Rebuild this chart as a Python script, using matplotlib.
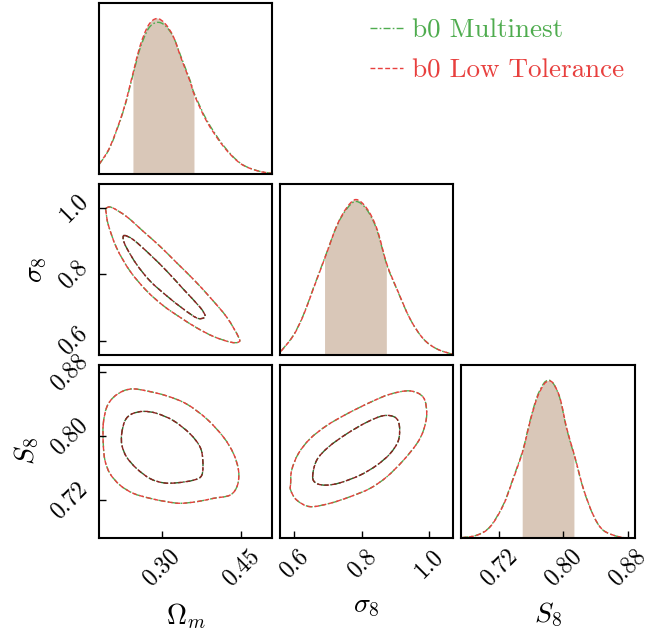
import numpy as np
import matplotlib
matplotlib.use("Agg")
import matplotlib.pyplot as plt
from matplotlib.lines import Line2D
from matplotlib.path import Path
from matplotlib.patches import PathPatch

plt.rcParams['font.family'] = 'serif'
plt.rcParams['font.serif'] = ['cmr10']
plt.rcParams['mathtext.fontset'] = 'cm'
plt.rcParams['axes.formatter.use_mathtext'] = True

# ---------------- data ----------------
series_names = ["b0 Multinest", "b0 Low Tolerance"]
green = "#4fac4f"
red = "#e8403e"
green_dark = "#2a6b2a"
red_dark = "#8e2222"
shade_color = "#d9c7b8"

# 1D marginals (normalised densities)
om_grid = [0.181, 0.2019, 0.2272, 0.2463, 0.2589, 0.2747, 0.2906, 0.3064, 0.3222,
           0.3381, 0.3539, 0.3620, 0.3856, 0.4172, 0.4489, 0.4806, 0.5091]
om_red = [0.062, 0.176, 0.411, 0.660, 0.825, 0.957, 1.000, 0.967, 0.882,
          0.732, 0.593, 0.507, 0.336, 0.176, 0.068, 0.021, 0.004]
om_green = [0.060, 0.172, 0.405, 0.650, 0.808, 0.935, 0.975, 0.955, 0.880,
            0.740, 0.600, 0.515, 0.345, 0.182, 0.070, 0.022, 0.004]
om_interval = (0.2463, 0.3620)

s8_grid = [0.5605, 0.5970, 0.6268, 0.6565, 0.6912, 0.7260, 0.7557, 0.7834, 0.8152,
           0.8450, 0.8746, 0.9043, 0.9438, 0.9834, 1.0232, 1.0677]
sig8_red = [0.024, 0.124, 0.254, 0.426, 0.627, 0.831, 0.948, 1.000, 0.943,
            0.813, 0.585, 0.426, 0.232, 0.103, 0.039, 0.006]
sig8_green = [0.025, 0.126, 0.257, 0.430, 0.630, 0.830, 0.940, 0.988, 0.935,
              0.805, 0.580, 0.423, 0.231, 0.103, 0.039, 0.006]
sig8_interval = (0.6912, 0.8746)

S8_grid = [0.6735, 0.6922, 0.7088, 0.7253, 0.7378, 0.7494, 0.7585, 0.7668, 0.7751,
           0.7813, 0.7875, 0.7959, 0.8042, 0.8137, 0.8248, 0.8373, 0.8497, 0.8705, 0.8892]
S8_red = [0.002, 0.017, 0.070, 0.208, 0.378, 0.550, 0.739, 0.884, 0.972,
          0.998, 0.982, 0.888, 0.696, 0.527, 0.315, 0.144, 0.049, 0.006, 0.000]
S8_green = [0.002, 0.018, 0.072, 0.212, 0.384, 0.556, 0.746, 0.892, 0.980,
            1.003, 0.982, 0.884, 0.690, 0.522, 0.312, 0.143, 0.048, 0.006, 0.000]
S8_interval = (0.7494, 0.8137)

# 2D contours (68% inner, 95% outer): Omega_m vs sigma_8
om_sig8_outer_om = [0.1943, 0.2050, 0.2335, 0.2652, 0.2968, 0.3285, 0.3601, 0.3918, 0.4234,
                    0.4456, 0.4456, 0.4298, 0.3981, 0.3665, 0.3348, 0.3032, 0.2715, 0.2399,
                    0.2145, 0.1987, 0.1943]
om_sig8_outer_s = [0.9977, 1.0006, 0.9729, 0.9283, 0.8837, 0.8341, 0.7846, 0.7301, 0.6706,
                   0.6112, 0.5963, 0.5963, 0.6131, 0.6389, 0.6706, 0.7053, 0.7499, 0.8093,
                   0.8787, 0.9481, 0.9877]
om_sig8_inner_om = [0.2291, 0.2462, 0.2779, 0.3095, 0.3411, 0.3728, 0.3823, 0.3791, 0.3665,
                    0.3411, 0.3095, 0.2779, 0.2525, 0.2335, 0.2272]
om_sig8_inner_s = [0.9164, 0.9035, 0.8589, 0.8094, 0.7549, 0.7004, 0.6756, 0.6686, 0.6686,
                   0.6954, 0.7350, 0.7796, 0.8292, 0.8787, 0.9035]

# Omega_m vs S_8
om_S8_outer_om = [0.1891, 0.1955, 0.2081, 0.2271, 0.2461, 0.2714, 0.3094, 0.3474, 0.3854,
                  0.4170, 0.4360, 0.4455, 0.4436, 0.4297, 0.3980, 0.3664, 0.3347, 0.3094,
                  0.2778, 0.2461, 0.2208, 0.2018, 0.1923, 0.1891]
om_S8_outer_S = [0.8153, 0.8360, 0.8484, 0.8566, 0.8591, 0.8566, 0.8504, 0.8401, 0.8215,
                 0.7988, 0.7781, 0.7574, 0.7388, 0.7264, 0.7223, 0.7181, 0.7161, 0.7181,
                 0.7223, 0.7285, 0.7388, 0.7533, 0.7698, 0.7905]
om_S8_inner_om = [0.2240, 0.2303, 0.2429, 0.2651, 0.2904, 0.3221, 0.3537, 0.3727, 0.3778,
                  0.3759, 0.3601, 0.3284, 0.3031, 0.2778, 0.2524, 0.2334, 0.2246]
om_S8_inner_S = [0.8029, 0.8194, 0.8277, 0.8310, 0.8285, 0.8194, 0.8029, 0.7863, 0.7698,
                 0.7512, 0.7450, 0.7417, 0.7417, 0.7470, 0.7595, 0.7739, 0.7884]

# sigma_8 vs S_8
sig8_S8_outer_s = [0.5891, 0.5921, 0.6119, 0.6465, 0.6960, 0.7554, 0.8247, 0.8841, 0.9435,
                   0.9831, 0.9930, 0.9831, 0.9633, 0.9237, 0.8742, 0.8247, 0.7653, 0.7059,
                   0.6465, 0.6069, 0.5891]
sig8_S8_outer_S = [0.7409, 0.7574, 0.7781, 0.7967, 0.8132, 0.8277, 0.8422, 0.8525, 0.8566,
                   0.8484, 0.8277, 0.8070, 0.7905, 0.7698, 0.7491, 0.7347, 0.7243, 0.7161,
                   0.7119, 0.7202, 0.7326]
sig8_S8_inner_s = [0.6544, 0.6663, 0.7010, 0.7554, 0.8148, 0.8643, 0.8990, 0.9118, 0.9089,
                   0.8841, 0.8445, 0.7950, 0.7356, 0.6960, 0.6663]
sig8_S8_inner_S = [0.7491, 0.7698, 0.7863, 0.8029, 0.8174, 0.8256, 0.8236, 0.8132, 0.7946,
                   0.7781, 0.7636, 0.7512, 0.7417, 0.7388, 0.7409]

om_lim = (0.181, 0.509)
sig8_lim = (0.5575, 1.071)
S8_lim = (0.6727, 0.889)
om_ticks = [0.30, 0.45]
om_ticklabels = ["0.30", "0.45"]
sig8_ticks = [0.6, 0.8, 1.0]
sig8_ticklabels = ["0.6", "0.8", "1.0"]
S8_ticks = [0.72, 0.80, 0.88]
S8_ticklabels = ["0.72", "0.80", "0.88"]

# ---------------- helpers: smooth Bezier paths through the read points ----------------
def bezier_path(xs, ys, closed=False):
    P = np.column_stack([xs, ys]).astype(float)
    n = len(P)
    verts = [P[0]]
    codes = [Path.MOVETO]
    nseg = n if closed else n - 1
    for i in range(nseg):
        i0 = (i - 1) % n if closed else max(i - 1, 0)
        i1 = i
        i2 = (i + 1) % n if closed else i + 1
        i3 = (i + 2) % n if closed else min(i + 2, n - 1)
        c1 = P[i1] + (P[i2] - P[i0]) / 6.0
        c2 = P[i2] - (P[i3] - P[i1]) / 6.0
        verts += [c1, c2, P[i2]]
        codes += [Path.CURVE4] * 3
    return verts, codes

def draw_curve(ax, xs, ys, closed=False, **kw):
    verts, codes = bezier_path(xs, ys, closed)
    ax.add_patch(PathPatch(Path(verts, codes), fill=False, **kw))

def draw_shade(ax, xs, ys, lo, hi, **kw):
    xs = np.asarray(xs); ys = np.asarray(ys)
    verts, codes = bezier_path(xs, ys, False)
    i_lo = int(np.argmin(np.abs(xs - lo)))
    i_hi = int(np.argmin(np.abs(xs - hi)))
    v = [(xs[i_lo], 0.0), (xs[i_lo], ys[i_lo])]
    c = [Path.MOVETO, Path.LINETO]
    for i in range(i_lo, i_hi):
        v += list(verts[1 + 3 * i: 4 + 3 * i])
        c += [Path.CURVE4] * 3
    v += [(xs[i_hi], 0.0), (xs[i_lo], 0.0)]
    c += [Path.LINETO, Path.CLOSEPOLY]
    ax.add_patch(PathPatch(Path(v, c), **kw))

# ---------------- figure ----------------
fig = plt.figure(figsize=(6.46, 6.31), dpi=100)
W, H = 646.0, 631.0
cols = [(99, 272), (280, 453), (461, 635)]
rows = [(3, 174), (184, 355), (365, 538)]

def make_ax(r, c):
    x0, x1 = cols[c]
    y0, y1 = rows[r]
    return fig.add_axes([x0 / W, 1 - y1 / H, (x1 - x0) / W, (y1 - y0) / H])

G_DASH = (0, (5, 1.6, 1.2, 1.6))
R_DASH = (0, (3.5, 1.8))
LW = 1.0
TICKFS = 17
LABFS = 20

def style(ax):
    for sp in ax.spines.values():
        sp.set_linewidth(1.5)
    ax.tick_params(direction='in', length=5, width=1.0, labelsize=TICKFS,
                   top=False, right=False, pad=5)
    ax.set_xticks([])
    ax.set_yticks([])

def plot1d(ax, x, yg, yr, interval, lim):
    draw_shade(ax, x, yr, interval[0], interval[1], facecolor=shade_color, lw=0)
    draw_curve(ax, x, yg, edgecolor=green, lw=LW, ls=G_DASH)
    draw_curve(ax, x, yr, edgecolor=red, lw=LW, ls=R_DASH)
    ax.set_xlim(*lim)
    ax.set_ylim(0, 1.1)

def plot2d(ax, ox, oy, ix, iy, xlim, ylim):
    draw_curve(ax, ox, oy, closed=True, edgecolor=green, lw=LW, ls=G_DASH)
    draw_curve(ax, ox, oy, closed=True, edgecolor=red, lw=LW, ls=R_DASH)
    draw_curve(ax, ix, iy, closed=True, edgecolor=green_dark, lw=LW, ls=G_DASH)
    draw_curve(ax, ix, iy, closed=True, edgecolor=red_dark, lw=LW, ls=R_DASH)
    ax.set_xlim(*xlim)
    ax.set_ylim(*ylim)

# diagonal
ax00 = make_ax(0, 0); style(ax00)
plot1d(ax00, om_grid, om_green, om_red, om_interval, om_lim)
ax11 = make_ax(1, 1); style(ax11)
plot1d(ax11, s8_grid, sig8_green, sig8_red, sig8_interval, sig8_lim)
ax22 = make_ax(2, 2); style(ax22)
plot1d(ax22, S8_grid, S8_green, S8_red, S8_interval, S8_lim)

# off-diagonal
ax10 = make_ax(1, 0); style(ax10)
plot2d(ax10, om_sig8_outer_om, om_sig8_outer_s, om_sig8_inner_om, om_sig8_inner_s, om_lim, sig8_lim)
ax20 = make_ax(2, 0); style(ax20)
plot2d(ax20, om_S8_outer_om, om_S8_outer_S, om_S8_inner_om, om_S8_inner_S, om_lim, S8_lim)
ax21 = make_ax(2, 1); style(ax21)
plot2d(ax21, sig8_S8_outer_s, sig8_S8_outer_S, sig8_S8_inner_s, sig8_S8_inner_S, sig8_lim, S8_lim)

# ticks & labels
ax10.set_yticks(sig8_ticks)
ax10.set_yticklabels(sig8_ticklabels, rotation=45, va='center', ha='right')
ax20.set_yticks(S8_ticks)
ax20.set_yticklabels(S8_ticklabels, rotation=45, va='center', ha='right')
ax20.set_xticks(om_ticks)
ax20.set_xticklabels(om_ticklabels, rotation=45, ha='center', va='top')
ax21.set_xticks(sig8_ticks)
ax21.set_xticklabels(sig8_ticklabels, rotation=45, ha='center', va='top')
ax22.set_xticks(S8_ticks)
ax22.set_xticklabels(S8_ticklabels, rotation=45, ha='center', va='top')

ax20.set_xlabel(r'$\Omega_m$', fontsize=LABFS, labelpad=8)
ax21.set_xlabel(r'$\sigma_8$', fontsize=LABFS, labelpad=8)
ax22.set_xlabel(r'$S_8$', fontsize=LABFS, labelpad=8)
ax10.set_ylabel(r'$\sigma_8$', fontsize=LABFS)
ax20.set_ylabel(r'$S_8$', fontsize=LABFS)

# legend
handles = [Line2D([], [], color=green, lw=LW, ls=G_DASH),
           Line2D([], [], color=red, lw=LW, ls=R_DASH)]
leg = fig.legend(handles, series_names, loc='upper left',
                 bbox_to_anchor=(346 / W, 1 + 6 / H), frameon=False,
                 fontsize=19.5, handlelength=1.2, handletextpad=0.35,
                 labelspacing=0.6)
for t, c in zip(leg.get_texts(), [green, red]):
    t.set_color(c)

fig.savefig("out.png", dpi=100)
